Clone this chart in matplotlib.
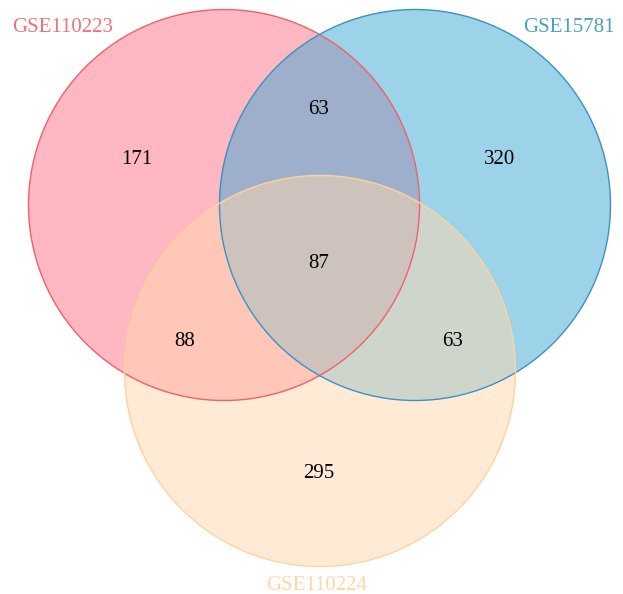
import matplotlib
matplotlib.use("Agg")
import matplotlib.pyplot as plt
from matplotlib.patches import Circle

# set names and region counts
set_names = ['GSE110223', 'GSE15781', 'GSE110224']
only_counts = [171, 320, 295]
pair_counts = {'ab': 63, 'ac': 88, 'bc': 63}
all_count = 87

fill_colors = ['#FF7185', '#3DA9D3', '#FFD7AF']
edge_colors = ['#F0606E', '#3A92C4', '#FFD39B']
label_colors = ['#F0707C', '#4A9FCB', '#FFD7A5']

plt.rcParams['font.family'] = ['Liberation Serif', 'DejaVu Serif']

fig = plt.figure(figsize=(6.23, 5.94), dpi=100)
ax = fig.add_axes([0, 0, 1, 1])
ax.set_xlim(0, 623)
ax.set_ylim(594, 0)
ax.set_aspect('equal')
ax.axis('off')

centers = [(224, 205), (415, 205), (320, 371)]
r = 195.5
for (cx, cy), fc in zip(centers, fill_colors):
    ax.add_patch(Circle((cx, cy), r, facecolor=fc, alpha=0.5, edgecolor='none'))
for (cx, cy), ec in zip(centers, edge_colors):
    ax.add_patch(Circle((cx, cy), r, facecolor='none', edgecolor=ec, lw=1.0))

fs = 15
ax.text(137, 159, str(only_counts[0]), ha='center', va='center', fontsize=fs)
ax.text(500, 159, str(only_counts[1]), ha='center', va='center', fontsize=fs)
ax.text(319, 474, str(only_counts[2]), ha='center', va='center', fontsize=fs)
ax.text(319, 109, str(pair_counts['ab']), ha='center', va='center', fontsize=fs)
ax.text(185, 342, str(pair_counts['ac']), ha='center', va='center', fontsize=fs)
ax.text(453, 342, str(pair_counts['bc']), ha='center', va='center', fontsize=fs)
ax.text(319, 264, str(all_count), ha='center', va='center', fontsize=fs)

ax.text(63, 27, set_names[0], ha='center', va='center', fontsize=15, color=label_colors[0])
ax.text(569, 27, set_names[1], ha='center', va='center', fontsize=15, color=label_colors[1])
ax.text(317, 585, set_names[2], ha='center', va='center', fontsize=15, color=label_colors[2])

fig.savefig('out.png', dpi=100)
